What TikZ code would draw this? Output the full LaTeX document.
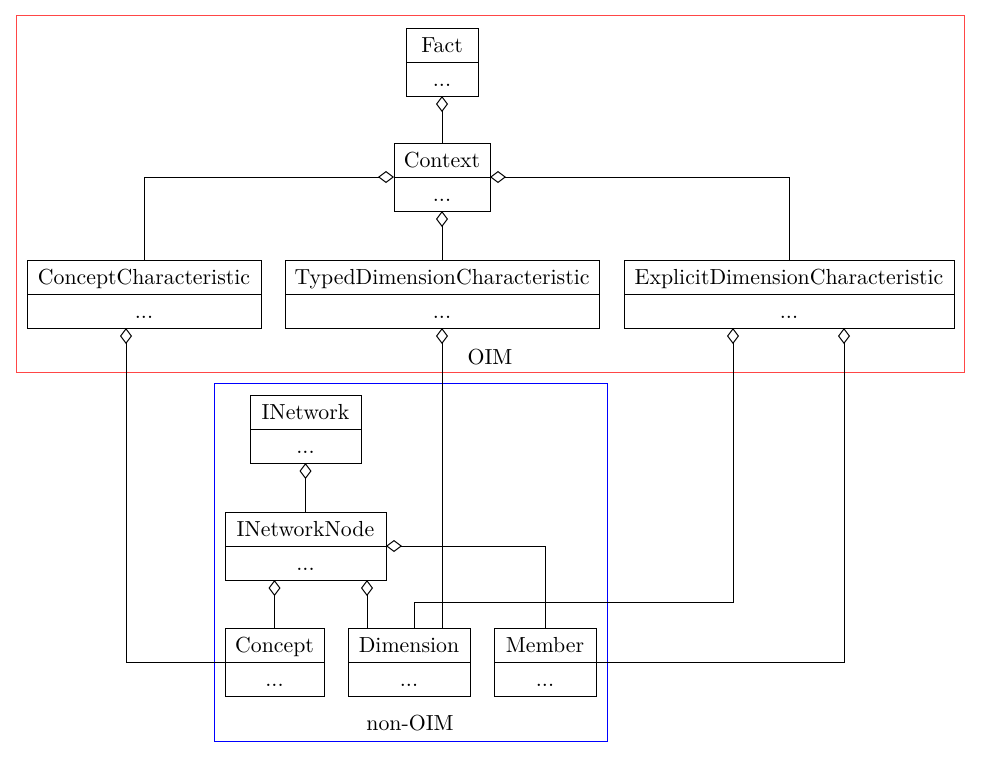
\documentclass[tikz,border=0pt]{standalone}
\usetikzlibrary{shapes.multipart,arrows.meta,calc}
% one strut gives both class parts the same height
\newcommand\partstrut{\rule[-4.3pt]{0pt}{16.5pt}}
\definecolor{oimred}{RGB}{255,70,70}
\begin{document}
\begin{tikzpicture}[x=0.5pt,y=-0.5pt,
  font=\fontsize{10.9pt}{13pt}\selectfont,
  umlclass/.style={draw, line width=0.5pt, rectangle split, rectangle split parts=2,
    inner ysep=0pt, inner xsep=2pt, outer sep=0pt, anchor=north, text centered},
  agg/.style={line width=0.5pt, -{Diamond[open,length=8pt,width=6pt]}},
  cluster/.style={line width=0.5pt}]
\useasboundingbox (0,0) rectangle (981,757);

% clusters
\draw[cluster, oimred] (16,15) rectangle (964,372);
\node (oimlabel) at (490,357) {OIM};
\draw[cluster, blue] (214,383) rectangle (607,741);
\node (nonoimlabel) at (410,723) {non-OIM};

% classes of the OIM
\node[umlclass, minimum width=36pt] (Fact) at (442,28) {\partstrut Fact\nodepart{two}\partstrut ...};
\node[umlclass, minimum width=48pt] (Context) at (442,143) {\partstrut Context\nodepart{two}\partstrut ...};
\node[umlclass, minimum width=117pt] (ConceptChar) at (144,260) {\partstrut ConceptCharacteristic\nodepart{two}\partstrut ...};
\node[umlclass, minimum width=157pt] (TypedDim) at (442,260) {\partstrut TypedDimensionCharacteristic\nodepart{two}\partstrut ...};
\node[umlclass, minimum width=165pt] (ExplicitDim) at (789,260) {\partstrut ExplicitDimensionCharacteristic\nodepart{two}\partstrut ...};

% classes outside the OIM
\node[umlclass, minimum width=55.5pt] (INetwork) at (305.5,395) {\partstrut INetwork\nodepart{two}\partstrut ...};
\node[umlclass, minimum width=80.5pt] (INetworkNode) at (305.5,512) {\partstrut INetworkNode\nodepart{two}\partstrut ...};
\node[umlclass, minimum width=49.5pt] (Concept) at (274.5,628) {\partstrut Concept\nodepart{two}\partstrut ...};
\node[umlclass, minimum width=61pt] (Dimension) at (409,628) {\partstrut Dimension\nodepart{two}\partstrut ...};
\node[umlclass, minimum width=51pt] (Member) at (545,628) {\partstrut Member\nodepart{two}\partstrut ...};

% connector end points off the node centres
\coordinate (dimnet) at ($(Dimension.north)+(-42,0)$);
\coordinate (dimexp) at ($(Dimension.north)+(5,0)$);
\coordinate (ccdia) at ($(ConceptChar.south)+(-18,0)$);
\coordinate (edleft) at ($(ExplicitDim.south)+(-56,0)$);
\coordinate (edright) at ($(ExplicitDim.south)+(55,0)$);

% aggregations inside the OIM
\draw[agg] (Context.north) -- (Fact.south);
\draw[agg] (ConceptChar.north) |- (Context.text split west);
\draw[agg] (ExplicitDim.north) |- (Context.text split east);
\draw[agg] (TypedDim.north) -- (Context.south);

% aggregations inside the networks
\draw[agg] (INetworkNode.north) -- (INetwork.south);
\draw[agg] (Concept.north) -- (Concept.north |- INetworkNode.south);
\draw[agg] (dimnet) -- (dimnet |- INetworkNode.south);
\draw[agg] (Member.north) |- (INetworkNode.text split east);

% links between the two groups
\draw[agg] (Concept.text split west) -| (ccdia);
\draw[agg] (Dimension.north -| TypedDim.south) -- (TypedDim.south);
\draw[agg] (dimexp) -- ++(0,-26) -| (edleft);
\draw[agg] (Member.text split east) -| (edright);
\end{tikzpicture}
\end{document}
